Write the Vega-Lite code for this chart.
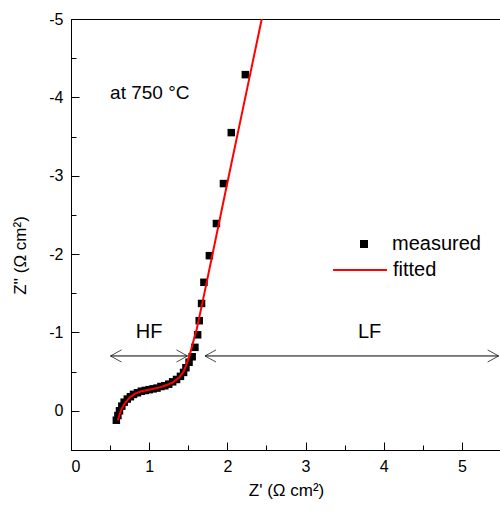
{
  "$schema": "https://vega.github.io/schema/vega-lite/v6.json",
  "autosize": "none",
  "width": 430,
  "height": 431,
  "padding": {"left": 71, "top": 19, "right": 0, "bottom": 63},
  "background": "white",
  "config": {
    "font": "Liberation Sans",
    "view": {"stroke": "black", "strokeWidth": 1},
    "axis": {
      "grid": false,
      "domainColor": "black",
      "tickColor": "black",
      "tickWidth": 1,
      "labelColor": "black",
      "labelFontSize": 16,
      "titleFontSize": 17,
      "titleFontWeight": "normal",
      "titleColor": "black"
    }
  },
  "resolve": {"axis": {"x": "independent", "y": "independent"}},
  "datasets": {
    "measured": [
      {"zr": 0.58, "zi": 0.12, "s": "measured"},
      {"zr": 0.60, "zi": 0.06, "s": "measured"},
      {"zr": 0.62, "zi": 0.0, "s": "measured"},
      {"zr": 0.65, "zi": -0.06, "s": "measured"},
      {"zr": 0.68, "zi": -0.11, "s": "measured"},
      {"zr": 0.72, "zi": -0.15, "s": "measured"},
      {"zr": 0.76, "zi": -0.18, "s": "measured"},
      {"zr": 0.80, "zi": -0.21, "s": "measured"},
      {"zr": 0.85, "zi": -0.23, "s": "measured"},
      {"zr": 0.90, "zi": -0.25, "s": "measured"},
      {"zr": 0.95, "zi": -0.26, "s": "measured"},
      {"zr": 1.00, "zi": -0.27, "s": "measured"},
      {"zr": 1.05, "zi": -0.28, "s": "measured"},
      {"zr": 1.10, "zi": -0.29, "s": "measured"},
      {"zr": 1.15, "zi": -0.31, "s": "measured"},
      {"zr": 1.20, "zi": -0.32, "s": "measured"},
      {"zr": 1.25, "zi": -0.34, "s": "measured"},
      {"zr": 1.30, "zi": -0.37, "s": "measured"},
      {"zr": 1.35, "zi": -0.40, "s": "measured"},
      {"zr": 1.40, "zi": -0.44, "s": "measured"},
      {"zr": 1.44, "zi": -0.49, "s": "measured"},
      {"zr": 1.47, "zi": -0.55, "s": "measured"},
      {"zr": 1.51, "zi": -0.62, "s": "measured"},
      {"zr": 1.55, "zi": -0.69, "s": "measured"},
      {"zr": 1.585, "zi": -0.81, "s": "measured"},
      {"zr": 1.62, "zi": -0.97, "s": "measured"},
      {"zr": 1.64, "zi": -1.15, "s": "measured"},
      {"zr": 1.67, "zi": -1.37, "s": "measured"},
      {"zr": 1.70, "zi": -1.64, "s": "measured"},
      {"zr": 1.77, "zi": -1.98, "s": "measured"},
      {"zr": 1.86, "zi": -2.39, "s": "measured"},
      {"zr": 1.95, "zi": -2.90, "s": "measured"},
      {"zr": 2.05, "zi": -3.55, "s": "measured"},
      {"zr": 2.23, "zi": -4.29, "s": "measured"}
    ],
    "fitted": [
      {"zr": 0.60, "zi": 0.12, "s": "fitted"},
      {"zr": 0.62, "zi": 0.05, "s": "fitted"},
      {"zr": 0.65, "zi": -0.03, "s": "fitted"},
      {"zr": 0.69, "zi": -0.10, "s": "fitted"},
      {"zr": 0.75, "zi": -0.17, "s": "fitted"},
      {"zr": 0.82, "zi": -0.22, "s": "fitted"},
      {"zr": 0.90, "zi": -0.25, "s": "fitted"},
      {"zr": 1.00, "zi": -0.27, "s": "fitted"},
      {"zr": 1.10, "zi": -0.29, "s": "fitted"},
      {"zr": 1.20, "zi": -0.32, "s": "fitted"},
      {"zr": 1.30, "zi": -0.36, "s": "fitted"},
      {"zr": 1.38, "zi": -0.42, "s": "fitted"},
      {"zr": 1.44, "zi": -0.50, "s": "fitted"},
      {"zr": 1.48, "zi": -0.60, "s": "fitted"},
      {"zr": 1.52, "zi": -0.72, "s": "fitted"},
      {"zr": 1.56, "zi": -0.87, "s": "fitted"},
      {"zr": 1.61, "zi": -1.05, "s": "fitted"},
      {"zr": 1.70, "zi": -1.47, "s": "fitted"},
      {"zr": 1.80, "zi": -1.95, "s": "fitted"},
      {"zr": 2.00, "zi": -2.91, "s": "fitted"},
      {"zr": 2.20, "zi": -3.86, "s": "fitted"},
      {"zr": 2.44, "zi": -5.00, "s": "fitted"}
    ],
    "arrows": [
      {"x": 0.505, "x2": 1.49, "y": -0.70},
      {"x": 1.714, "x2": 5.47, "y": -0.70}
    ],
    "heads": [
      {"x": 0.505, "y": -0.70, "dir": "left"},
      {"x": 1.49, "y": -0.70, "dir": "right"},
      {"x": 1.714, "y": -0.70, "dir": "left"},
      {"x": 5.47, "y": -0.70, "dir": "right"}
    ],
    "bands": [
      {"x": 1.0, "y": -1.0, "label": "HF"},
      {"x": 3.82, "y": -1.0, "label": "LF"}
    ],
    "note": [
      {"x": 0.50, "y": -4.06, "label": "at 750 °C"}
    ]
  },
  "layer": [
    {
      "data": {"name": "arrows"},
      "mark": {"type": "rule", "color": "black", "strokeWidth": 1},
      "encoding": {
        "x": {"field": "x", "type": "quantitative", "scale": {"domain": [0, 5.5], "nice": false, "zero": false},
          "axis": {
            "orient": "bottom",
            "title": "Z' (Ω cm²)",
            "values": [0, 1, 2, 3, 4, 5],
            "tickSize": -8,
            "labelPadding": 16,
            "titlePadding": 8
          }},
        "x2": {"field": "x2"},
        "y": {"field": "y", "type": "quantitative", "scale": {"domain": [-5, 0.5], "reverse": true, "nice": false, "zero": false},
          "axis": {
            "orient": "left",
            "title": "Z'' (Ω cm²)",
            "values": [-5, -4, -3, -2, -1, 0],
            "labelExpr": "datum.value < 0 ? '-' + abs(datum.value) : '' + datum.value",
            "tickSize": -8,
            "labelPadding": 16,
            "titleX": -42,
            "titleY": 236
          }}
      }
    },
    {
      "data": {"name": "heads"},
      "transform": [{"filter": "datum.dir === 'left'"}],
      "mark": {"type": "point", "shape": "M1,-0.55L0,0L1,0.55", "filled": false, "color": "black", "strokeWidth": 1, "size": 484},
      "encoding": {
        "x": {"field": "x", "type": "quantitative",
          "axis": {"orient": "bottom", "values": [0.5, 1.5, 2.5, 3.5, 4.5], "tickSize": -5, "labels": false, "domain": false, "title": null}},
        "y": {"field": "y", "type": "quantitative",
          "axis": {"orient": "left", "values": [-4.5, -3.5, -2.5, -1.5, -0.5], "tickSize": -5, "labels": false, "domain": false, "title": null}}
      }
    },
    {
      "data": {"name": "heads"},
      "transform": [{"filter": "datum.dir === 'right'"}],
      "mark": {"type": "point", "shape": "M-1,-0.55L0,0L-1,0.55", "filled": false, "color": "black", "strokeWidth": 1, "size": 484},
      "encoding": {
        "x": {"field": "x", "type": "quantitative", "axis": null},
        "y": {"field": "y", "type": "quantitative", "axis": null}
      }
    },
    {
      "data": {"name": "measured"},
      "mark": {"type": "point", "filled": true, "color": "black", "opacity": 1, "size": 56},
      "encoding": {
        "x": {"field": "zr", "type": "quantitative", "axis": null},
        "y": {"field": "zi", "type": "quantitative", "axis": null},
        "shape": {"field": "s", "type": "nominal", "scale": {"range": ["square"]},
          "legend": {"orient": "none", "legendX": 283, "legendY": 215, "title": null, "padding": 0,
            "labelFontSize": 20, "labelColor": "black", "labelOffset": 18, "symbolSize": 64,
            "symbolFillColor": "black", "symbolStrokeColor": "black", "symbolStrokeWidth": 0}}
      }
    },
    {
      "data": {"name": "fitted"},
      "mark": {"type": "line", "strokeWidth": 2, "clip": true},
      "encoding": {
        "x": {"field": "zr", "type": "quantitative", "axis": null},
        "y": {"field": "zi", "type": "quantitative", "axis": null},
        "color": {"field": "s", "type": "nominal", "scale": {"range": ["#ff0000"]},
          "legend": {"orient": "none", "legendX": 261, "legendY": 223, "title": null, "padding": 0,
            "labelFontSize": 20, "labelColor": "black", "labelOffset": 5, "symbolType": "stroke",
            "symbolSize": 2900, "symbolStrokeWidth": 2}}
      }
    },
    {
      "data": {"name": "bands"},
      "mark": {"type": "text", "fontSize": 20, "align": "center", "baseline": "middle", "color": "black"},
      "encoding": {
        "x": {"field": "x", "type": "quantitative", "axis": null},
        "y": {"field": "y", "type": "quantitative", "axis": null},
        "text": {"field": "label"}
      }
    },
    {
      "data": {"name": "note"},
      "mark": {"type": "text", "fontSize": 19, "align": "left", "baseline": "middle", "color": "black"},
      "encoding": {
        "x": {"field": "x", "type": "quantitative", "axis": null},
        "y": {"field": "y", "type": "quantitative", "axis": null},
        "text": {"field": "label"}
      }
    }
  ]
}
